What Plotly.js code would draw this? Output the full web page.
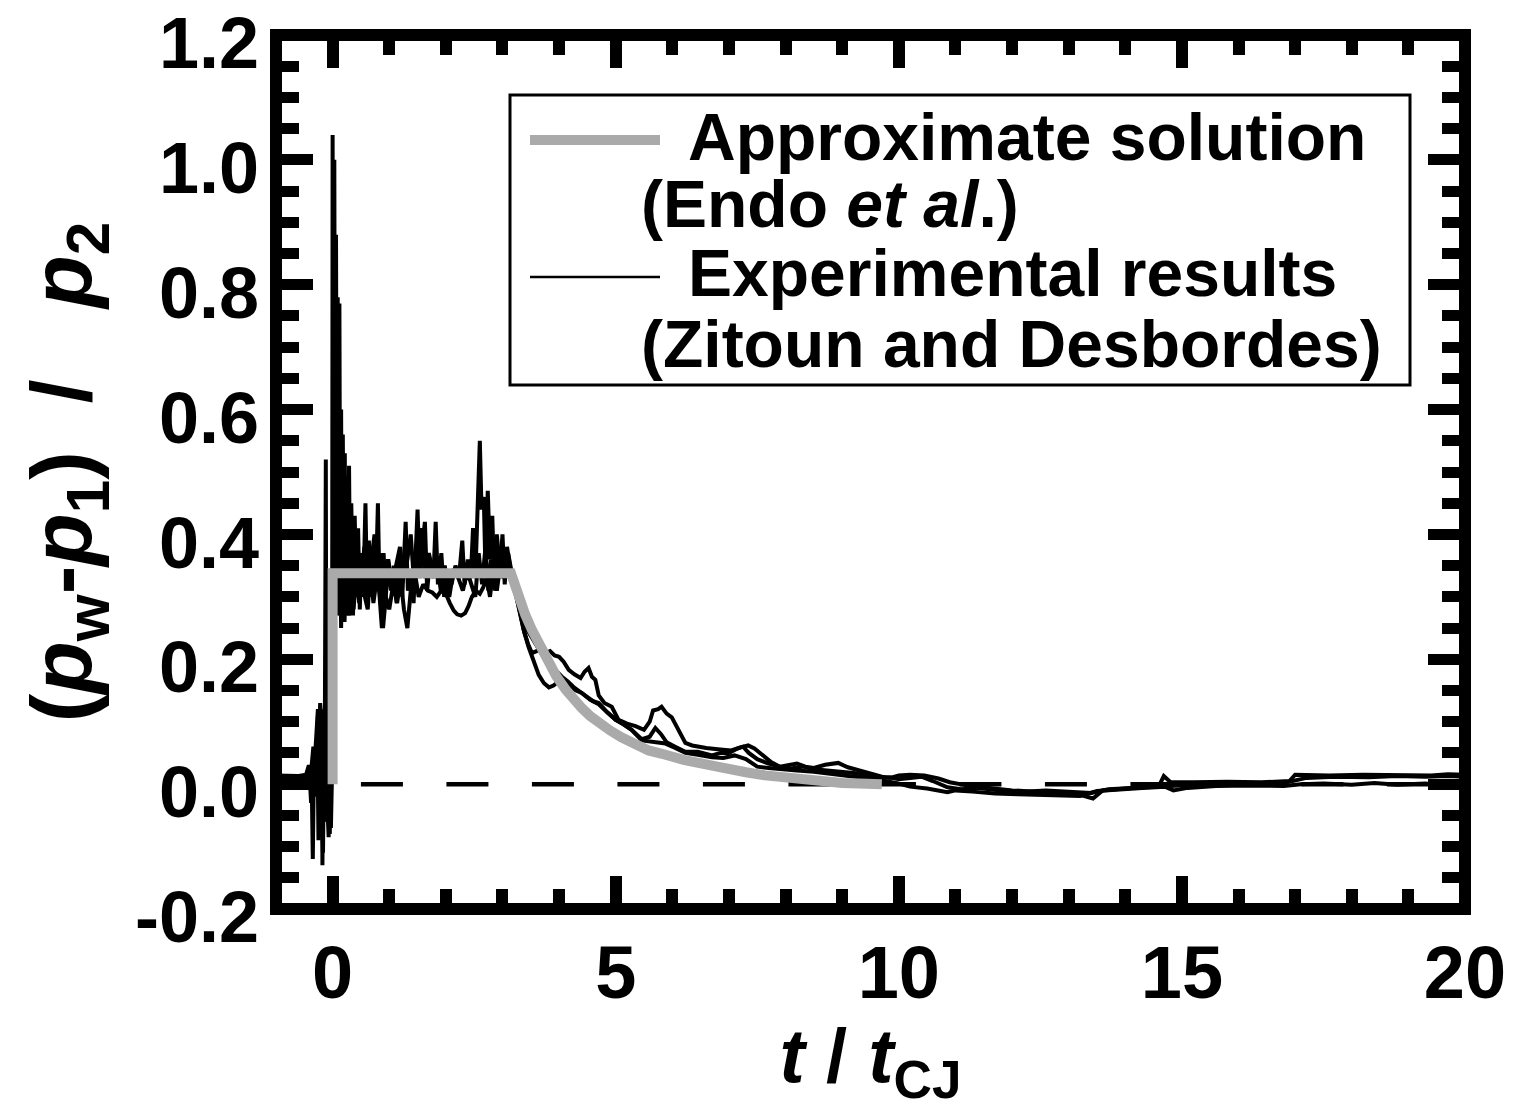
<!DOCTYPE html>
<html>
<head>
<meta charset="utf-8">
<script src="https://cdn.plot.ly/plotly-3.0.1.min.js"></script>
<style>html,body{margin:0;padding:0;background:#fff;}#chart{width:1521px;height:1109px;}</style>
</head>
<body>
<div id="chart"></div>
<script>
// ---- Data ----
// Approximate solution (Endo et al.): [t/tCJ, (pw-p1)/p2]
const approxPoints = [[0,0],[0,0.338],[3.15,0.338],[3.2,0.322],[3.3,0.295],[3.4,0.272],[3.52,0.247],[3.65,0.222],[3.8,0.195],[3.95,0.173],[4.12,0.151],[4.25,0.136],[4.4,0.122],[4.55,0.109],[4.7,0.098],[4.9,0.086],[5.1,0.075],[5.3,0.066],[5.58,0.054],[5.8,0.049],[6.0,0.043],[6.2,0.039],[6.46,0.034],[6.7,0.029],[7.0,0.024],[7.3,0.019],[7.64,0.014],[7.9,0.011],[8.2,0.008],[8.5,0.005],[8.8,0.003],[9.0,0.002],[9.3,0.001],[9.7,0.0]];

// Experimental results (Zitoun and Desbordes), three records
const exp1Points = [[-1.0,0.011],[-0.7,0.011],[-0.5,0.011],[-0.44,0.012],[-0.4,0.02],[-0.37,0.01],[-0.35,-0.12],[-0.33,0.03],[-0.3,0.05],[-0.28,0.04],[-0.26,0.11],[-0.24,0.06],[-0.22,0.13],[-0.2,0.08],[-0.19,0.12],[-0.18,-0.13],[-0.16,0.1],[-0.14,0.02],[-0.12,0.52],[-0.11,0.0],[-0.09,-0.06],[-0.07,0.09],[-0.05,-0.08],[-0.03,0.04],[-0.01,0.0],[0.0,1.04],[0.01,0.32],[0.02,0.4],[0.03,1.0],[0.045,0.3],[0.06,0.88],[0.075,0.33],[0.09,0.78],[0.105,0.28],[0.12,0.77],[0.135,0.27],[0.15,0.6],[0.165,0.26],[0.18,0.56],[0.2,0.29],[0.215,0.53],[0.23,0.27],[0.25,0.47],[0.27,0.3],[0.29,0.51],[0.31,0.29],[0.33,0.45],[0.36,0.27],[0.39,0.43],[0.42,0.3],[0.45,0.41],[0.48,0.28],[0.51,0.37],[0.54,0.3],[0.58,0.45],[0.61,0.29],[0.64,0.39],[0.68,0.3],[0.72,0.38],[0.76,0.31],[0.8,0.45],[0.83,0.3],[0.87,0.25],[0.9,0.37],[0.94,0.3],[0.98,0.36],[1.03,0.31],[1.08,0.35],[1.13,0.29],[1.18,0.36],[1.23,0.3],[1.29,0.42],[1.33,0.31],[1.38,0.34],[1.43,0.29],[1.5,0.44],[1.54,0.33],[1.58,0.38],[1.63,0.42],[1.67,0.31],[1.72,0.36],[1.78,0.33],[1.82,0.42],[1.86,0.32],[1.92,0.37],[1.97,0.3],[2.03,0.34],[2.1,0.32],[2.17,0.35],[2.23,0.33],[2.29,0.39],[2.33,0.32],[2.39,0.36],[2.44,0.33],[2.48,0.41],[2.52,0.33],[2.56,0.47],[2.6,0.55],[2.63,0.44],[2.67,0.46],[2.7,0.34],[2.74,0.47],[2.78,0.36],[2.82,0.43],[2.86,0.31],[2.9,0.39],[2.95,0.33],[3.0,0.4],[3.04,0.32],[3.08,0.38],[3.13,0.35],[3.18,0.33],[3.25,0.3],[3.32,0.27],[3.38,0.245],[3.45,0.225],[3.52,0.21],[3.6,0.213],[3.68,0.218],[3.76,0.21],[3.84,0.213],[3.92,0.206],[4.0,0.204],[4.08,0.196],[4.17,0.183],[4.27,0.176],[4.38,0.17],[4.45,0.18],[4.52,0.186],[4.58,0.172],[4.64,0.167],[4.7,0.142],[4.8,0.13],[4.93,0.124],[5.05,0.103],[5.2,0.097],[5.35,0.093],[5.5,0.087],[5.6,0.1],[5.66,0.118],[5.75,0.12],[5.81,0.124],[5.9,0.113],[5.99,0.107],[6.1,0.087],[6.23,0.066],[6.35,0.062],[6.46,0.06],[6.6,0.058],[6.8,0.056],[7.04,0.054],[7.2,0.059],[7.34,0.062],[7.45,0.057],[7.6,0.045],[7.75,0.035],[7.9,0.028],[8.05,0.031],[8.2,0.033],[8.35,0.028],[8.5,0.026],[8.7,0.031],[8.93,0.034],[9.1,0.027],[9.3,0.022],[9.5,0.018],[9.7,0.012],[9.85,0.01],[10.0,0.014],[10.2,0.015],[10.45,0.014],[10.7,0.009],[10.9,0.003],[11.2,-0.002],[11.5,-0.005],[11.8,-0.008],[12.0,-0.01],[12.4,-0.012],[12.8,-0.014],[13.2,-0.017],[13.43,-0.023],[13.6,-0.01],[14.0,-0.007],[14.4,-0.004],[14.6,-0.002],[14.68,0.013],[14.8,0.003],[15.2,0.003],[15.8,0.004],[16.4,0.003],[16.9,0.005],[17.0,0.015],[17.6,0.014],[18.2,0.015],[18.8,0.015],[19.4,0.014],[19.7,0.016],[20.0,0.015]];

const exp2Points = [[-1.0,0.008],[-0.6,0.008],[-0.45,0.006],[-0.41,0.02],[-0.38,-0.03],[-0.34,0.05],[-0.3,-0.02],[-0.27,0.09],[-0.25,-0.09],[-0.23,0.1],[-0.21,0.02],[-0.17,-0.11],[-0.15,0.07],[-0.12,-0.03],[-0.1,0.05],[-0.08,-0.04],[-0.05,0.06],[-0.03,-0.07],[-0.01,0.02],[0.01,0.03],[0.02,0.45],[0.04,0.27],[0.07,0.62],[0.09,0.27],[0.12,0.55],[0.15,0.25],[0.18,0.42],[0.21,0.26],[0.25,0.38],[0.29,0.27],[0.33,0.35],[0.37,0.28],[0.42,0.34],[0.47,0.29],[0.52,0.36],[0.57,0.3],[0.62,0.28],[0.67,0.35],[0.72,0.29],[0.78,0.33],[0.84,0.3],[0.89,0.25],[0.94,0.3],[1.0,0.28],[1.07,0.32],[1.14,0.29],[1.2,0.33],[1.26,0.28],[1.32,0.25],[1.38,0.31],[1.45,0.34],[1.52,0.3],[1.6,0.32],[1.68,0.31],[1.76,0.307],[1.84,0.3],[1.92,0.31],[2.0,0.305],[2.07,0.29],[2.14,0.278],[2.2,0.272],[2.27,0.27],[2.34,0.274],[2.4,0.285],[2.46,0.3],[2.53,0.31],[2.6,0.305],[2.66,0.315],[2.72,0.33],[2.78,0.3],[2.84,0.35],[2.9,0.31],[2.96,0.35],[3.02,0.33],[3.08,0.36],[3.15,0.34],[3.22,0.31],[3.3,0.275],[3.38,0.245],[3.46,0.22],[3.55,0.195],[3.64,0.175],[3.73,0.162],[3.82,0.155],[3.9,0.158],[4.0,0.165],[4.1,0.16],[4.2,0.156],[4.3,0.15],[4.4,0.146],[4.55,0.135],[4.7,0.128],[4.85,0.115],[5.0,0.103],[5.15,0.095],[5.28,0.087],[5.46,0.07],[5.6,0.068],[5.75,0.067],[5.88,0.065],[6.05,0.058],[6.23,0.05],[6.45,0.047],[6.7,0.043],[6.9,0.042],[7.1,0.046],[7.3,0.04],[7.5,0.028],[7.7,0.026],[7.9,0.024],[8.2,0.022],[8.5,0.02],[8.8,0.017],[9.1,0.014],[9.4,0.01],[9.7,0.006],[9.95,0.002],[10.2,-0.004],[10.5,-0.007],[10.86,-0.013],[11.0,-0.01],[11.3,-0.012],[11.7,-0.015],[12.1,-0.016],[12.5,-0.017],[12.9,-0.018],[13.2,-0.019],[13.5,-0.011],[13.9,-0.008],[14.3,-0.006],[14.7,-0.004],[14.85,-0.01],[15.1,-0.006],[15.6,-0.003],[16.2,-0.002],[16.8,-0.003],[17.1,0.0],[17.5,0.001],[18.0,-0.001],[18.4,0.002],[18.8,-0.001],[19.3,0.001],[19.6,-0.002],[20.0,-0.005]];

const exp3Points = [[-1.0,0.014],[-0.6,0.013],[-0.47,0.015],[-0.42,0.03],[-0.38,0.02],[-0.34,0.06],[-0.31,0.045],[-0.28,0.085],[-0.26,0.12],[-0.24,0.09],[-0.22,0.125],[-0.2,0.06],[-0.18,0.1],[-0.15,-0.06],[-0.13,0.04],[-0.1,-0.02],[-0.07,-0.085],[-0.05,0.03],[-0.03,-0.02],[-0.015,0.05],[0.0,0.2],[0.015,0.5],[0.035,0.3],[0.055,0.66],[0.07,0.3],[0.1,0.62],[0.12,0.29],[0.14,0.5],[0.17,0.3],[0.2,0.45],[0.23,0.31],[0.27,0.42],[0.31,0.33],[0.35,0.4],[0.4,0.34],[0.45,0.37],[0.5,0.32],[0.56,0.38],[0.62,0.31],[0.68,0.35],[0.74,0.4],[0.8,0.33],[0.86,0.37],[0.92,0.33],[0.98,0.36],[1.05,0.32],[1.12,0.35],[1.19,0.38],[1.25,0.33],[1.32,0.36],[1.38,0.4],[1.44,0.32],[1.5,0.36],[1.57,0.41],[1.63,0.33],[1.7,0.37],[1.77,0.34],[1.84,0.36],[1.91,0.31],[1.98,0.35],[2.06,0.3],[2.14,0.345],[2.22,0.33],[2.3,0.31],[2.38,0.34],[2.45,0.32],[2.52,0.3],[2.58,0.37],[2.64,0.32],[2.7,0.38],[2.75,0.31],[2.8,0.36],[2.85,0.34],[2.9,0.4],[2.95,0.35],[3.0,0.37],[3.05,0.34],[3.1,0.37],[3.18,0.33],[3.26,0.3],[3.35,0.27],[3.45,0.245],[3.55,0.23],[3.65,0.215],[3.75,0.2],[3.85,0.19],[3.95,0.18],[4.05,0.172],[4.15,0.165],[4.25,0.156],[4.4,0.146],[4.5,0.14],[4.6,0.133],[4.7,0.13],[4.85,0.115],[5.0,0.103],[5.1,0.098],[5.28,0.087],[5.46,0.072],[5.6,0.076],[5.7,0.09],[5.8,0.08],[5.9,0.067],[6.05,0.06],[6.23,0.052],[6.45,0.052],[6.7,0.046],[6.85,0.05],[7.0,0.05],[7.15,0.057],[7.25,0.06],[7.35,0.05],[7.5,0.04],[7.7,0.033],[7.9,0.028],[8.1,0.025],[8.3,0.028],[8.5,0.024],[8.75,0.022],[9.0,0.02],[9.2,0.018],[9.4,0.015],[9.6,0.01],[9.84,0.011],[10.0,0.008],[10.2,0.01],[10.4,0.012],[10.6,0.005],[10.86,-0.005],[11.1,-0.008],[11.4,-0.006],[11.8,-0.01],[12.2,-0.012],[12.6,-0.01],[13.0,-0.012],[13.4,-0.014],[13.7,-0.008],[14.1,-0.006],[14.5,-0.004],[14.9,-0.001],[15.3,0.0],[15.8,0.002],[16.3,0.001],[16.8,0.002],[17.2,0.01],[17.7,0.012],[18.3,0.011],[18.8,0.013],[19.3,0.012],[19.7,0.013],[20.0,0.012]];

// zero reference line
const zeroLineT = [0.5, 20];
const zeroLineV = [0, 0];

// tick labels
const xTickVals = [0, 5, 10, 15, 20];
const xTickText = ["0", "5", "10", "15", "20"];
const yTickVals = [-0.2, 0, 0.2, 0.4, 0.6, 0.8, 1.0, 1.2];
const yTickText = ["-0.2", "0.0", "0.2", "0.4", "0.6", "0.8", "1.0", "1.2"];

// legend texts
const legendLines = ["Approximate solution", "(Endo <i>et al</i>.)", "Experimental results", "(Zitoun and Desbordes)"];

// ---- Build traces ----
const FONT = "Liberation Sans, Arial, Helvetica, sans-serif";
function xs(p){return p.map(d=>d[0]);}
function ys(p){return p.map(d=>d[1]);}

const traces = [
  {x: zeroLineT, y: zeroLineV, type:'scatter', mode:'lines', line:{color:'#000', width:4.5, dash:'42px,43.5px'}, showlegend:false, hoverinfo:'skip'},
  {x: xs(exp2Points), y: ys(exp2Points), type:'scatter', mode:'lines', line:{color:'#000', width:4}, showlegend:false},
  {x: xs(exp3Points), y: ys(exp3Points), type:'scatter', mode:'lines', line:{color:'#000', width:4}, showlegend:false},
  {x: xs(exp1Points), y: ys(exp1Points), type:'scatter', mode:'lines', line:{color:'#000', width:4}, showlegend:false},
  {x: xs(approxPoints), y: ys(approxPoints), type:'scatter', mode:'lines', line:{color:'#aaaaaa', width:10}, showlegend:false}
];

const xTickFont = {family: FONT, size: 74, color: '#000', weight: 'bold'};
const yTickFont = {family: FONT, size: 72, color: '#000', weight: 'bold'};
const legendFont = {family: FONT, size: 66, color: '#000', weight: 'bold'};

function px2x(p){return (p-276)/1189;}
function px2y(p){return (909-p)/874;}

const layout = {
  width:1521, height:1109,
  margin:{l:276, r:56, t:35, b:200, pad:0},
  paper_bgcolor:'#fff', plot_bgcolor:'#fff',
  showlegend:false,
  xaxis:{
    range:[-1,20], tickmode:'array', tickvals:xTickVals, ticktext:xTickText,
    ticks:'inside', ticklen:33, tickwidth:12, tickcolor:'#000',
    mirror:'allticks', showline:false, showgrid:false, zeroline:false,
    minor:{dtick:1, tick0:0, ticks:'inside', ticklen:20, tickwidth:12, tickcolor:'#000', showgrid:false},
    tickfont:xTickFont, ticklabelstandoff:14, ticklabeloverflow:'allow',
    title:{text:'<i>t</i>\u00a0/\u00a0<i>t</i><sub>CJ</sub>', font:{family:FONT, size:76, color:'#000', weight:'bold'}, standoff:2}
  },
  yaxis:{
    range:[-0.2,1.2], tickmode:'array', tickvals:yTickVals, ticktext:yTickText,
    ticks:'inside', ticklen:37, tickwidth:11, tickcolor:'#000',
    mirror:'allticks', showline:false, showgrid:false, zeroline:false,
    minor:{dtick:0.05, tick0:0, ticks:'inside', ticklen:23, tickwidth:11, tickcolor:'#000', showgrid:false},
    tickfont:yTickFont, ticklabelstandoff:16, ticklabelshift:8, ticklabeloverflow:'allow',
    title:{text:'(<i>p</i><sub>w</sub>-<i>p</i><sub>1</sub>)\u00a0\u00a0/\u00a0\u00a0\u00a0<i>p</i><sub>2</sub>', font:{family:FONT, size:86, color:'#000', weight:'bold'}, standoff:14}
  },
  yaxis2:{
    overlaying:'y', side:'left', range:[-0.2,1.2], tick0:0, dtick:0.1, ticks:'inside', ticklen:30, tickwidth:11, tickcolor:'#000',
    mirror:'allticks', showline:false, showgrid:false, zeroline:false, showticklabels:false
  },
  shapes:[
    {type:'rect', xref:'paper', yref:'paper', x0:0, x1:1, y0:0, y1:1, line:{color:'#000', width:12}, layer:'above'},
    {type:'rect', xref:'paper', yref:'paper', x0:px2x(510), x1:px2x(1410), y0:px2y(385), y1:px2y(95), line:{color:'#000', width:3}, fillcolor:'#fff', layer:'above'},
    {type:'line', xref:'paper', yref:'paper', x0:px2x(530), x1:px2x(660), y0:px2y(140), y1:px2y(140), line:{color:'#aaaaaa', width:10}, layer:'above'},
    {type:'line', xref:'paper', yref:'paper', x0:px2x(530), x1:px2x(660), y0:px2y(277), y1:px2y(277), line:{color:'#000', width:2.5}, layer:'above'}
  ],
  annotations:[
    {text:legendLines[0], xref:'paper', yref:'paper', x:px2x(686), y:px2y(137), xanchor:'left', yanchor:'middle', showarrow:false, font:legendFont},
    {text:legendLines[1], xref:'paper', yref:'paper', x:px2x(639), y:px2y(204), xanchor:'left', yanchor:'middle', showarrow:false, font:legendFont},
    {text:legendLines[2], xref:'paper', yref:'paper', x:px2x(686), y:px2y(273), xanchor:'left', yanchor:'middle', showarrow:false, font:legendFont},
    {text:legendLines[3], xref:'paper', yref:'paper', x:px2x(639), y:px2y(344), xanchor:'left', yanchor:'middle', showarrow:false, font:legendFont}
  ]
};

Plotly.newPlot('chart', traces, layout, {staticPlot:true, displayModeBar:false});
</script>
</body>
</html>
